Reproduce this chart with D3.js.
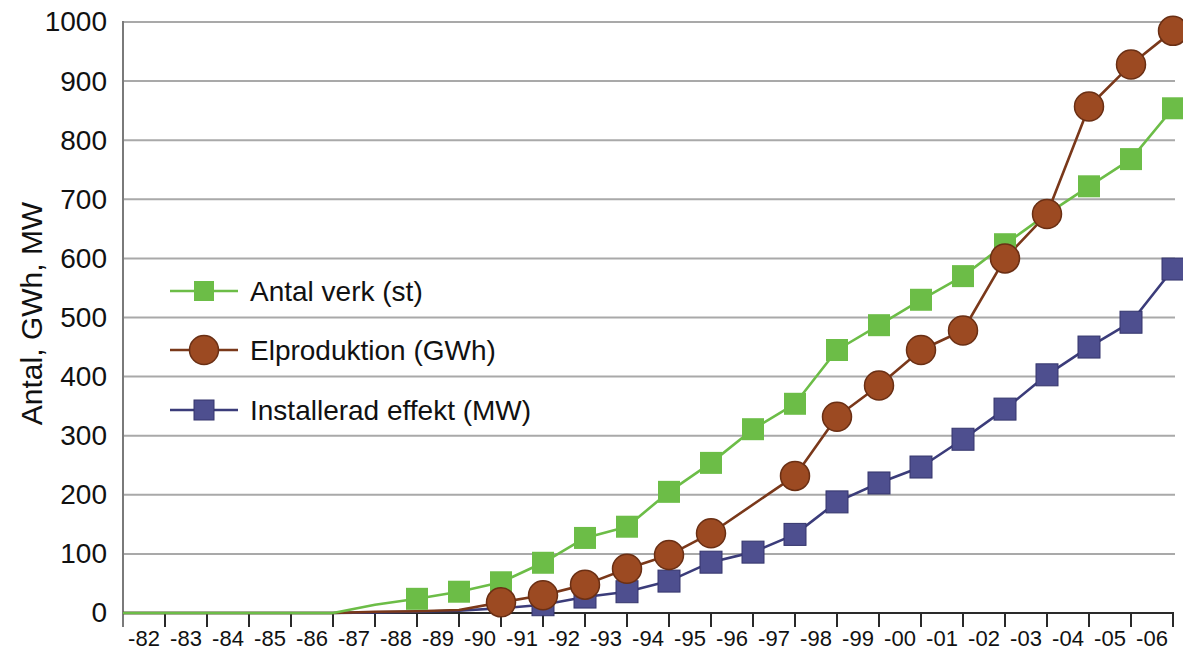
<!DOCTYPE html>
<html>
<head>
<meta charset="utf-8">
<script src="https://cdn.jsdelivr.net/npm/d3@7/dist/d3.min.js"></script>
<style>
  html, body { margin: 0; padding: 0; background: #fff; }
  svg { display: block; font-family: "Liberation Sans", Arial, Helvetica, sans-serif; }
</style>
</head>
<body>
<svg id="chart" width="1183" height="656"></svg>
<script>
// ---- data ----
const years = ["-82","-83","-84","-85","-86","-87","-88","-89","-90","-91","-92","-93","-94","-95","-96","-97","-98","-99","-00","-01","-02","-03","-04","-05","-06"];
const antalVerk   = [0,0,0,0,0,14,24,36,52,85,127,146,205,254,311,354,445,487,530,570,624,675,722,768,854];
const elproduktion = [0,0,0,0,0,2,3,5,18,30,48,75,98,135,null,232,332,385,445,478,600,675,857,928,985];
const installerad = [0,0,0,0,0,1,2,4,8,14,27,36,54,86,103,133,188,220,247,294,345,403,450,492,582];
const yTicks = [0,100,200,300,400,500,600,700,800,900,1000];
const seriesNames = ["Antal verk (st)", "Elproduktion (GWh)", "Installerad effekt (MW)"];
const markerFrom = ["-88", "-90", "-91"];
const yTitle = "Antal, GWh, MW";

(function () {
// ---- layout ----
const mLeft = 123, mRight = 1173, mTop = 22, mBottom = 613;
const svg = d3.select("#chart");

const x = d3.scaleBand().domain(years).range([mLeft, mRight]).paddingInner(0).paddingOuter(0);
const y = d3.scaleLinear().domain([0, 1000]).range([mBottom, mTop]);
const px = yr => x(yr) + x.bandwidth();

// gridlines
svg.append("g").selectAll("line").data(yTicks.filter(d => d > 0)).join("line")
  .attr("x1", mLeft).attr("x2", mRight + 2)
  .attr("y1", d => y(d)).attr("y2", d => y(d))
  .attr("stroke", "#a9a9a9").attr("stroke-width", 2);

// left axis line
svg.append("line").attr("x1", mLeft).attr("x2", mLeft).attr("y1", y(1000) - 1).attr("y2", mBottom + 14)
  .attr("stroke", "#7a7a7a").attr("stroke-width", 2);

// y tick labels
const yAxis = d3.axisLeft(y).tickValues(yTicks).tickSize(0).tickPadding(16).tickFormat(d3.format("d"));
const yg = svg.append("g").attr("transform", `translate(${mLeft},0)`).call(yAxis);
yg.select(".domain").remove();
yg.selectAll("text").attr("font-size", 28).attr("fill", "#111")
  .attr("font-family", "'Liberation Sans', Arial, sans-serif");

// bottom axis
const xAxis = d3.axisBottom(x).tickSize(0).tickPadding(17);
const xg = svg.append("g").attr("transform", `translate(0,${mBottom})`).call(xAxis);
xg.select(".domain").remove();
xg.selectAll("text").attr("font-size", 22).attr("fill", "#111")
  .attr("font-family", "'Liberation Sans', Arial, sans-serif");
svg.append("line").attr("x1", mLeft).attr("x2", mRight + 1).attr("y1", mBottom).attr("y2", mBottom)
  .attr("stroke", "#2a2a2a").attr("stroke-width", 2);
svg.append("g").selectAll("line").data(years).join("line")
  .attr("x1", d => px(d)).attr("x2", d => px(d))
  .attr("y1", mBottom).attr("y2", mBottom + 14)
  .attr("stroke", "#2a2a2a").attr("stroke-width", 2);

// y title
svg.append("text")
  .attr("transform", `translate(42,${(y(0) + y(1000)) / 2 - 4}) rotate(-90)`)
  .attr("text-anchor", "middle")
  .attr("font-size", 30).attr("fill", "#111")
  .text(yTitle);

// ---- series ----
const green = "#6cbd47", greenLine = "#6cbd47";
const brown = "#9c4a22", brownLine = "#7a381a", brownStroke = "#6a2f14";
const blue = "#4e4f8f", blueLine = "#3b3c7a", blueStroke = "#34356c";

function pts(vals) {
  const arr = [{ px: x.range()[0], v: 0 }];
  years.forEach((yr, i) => { if (vals[i] !== null) arr.push({ px: px(yr), v: vals[i], yr: yr, i: i }); });
  return arr;
}
const line = d3.line().x(d => d.px).y(d => y(d.v));

const series = [
  { name: seriesNames[0], vals: antalVerk, from: markerFrom[0], color: greenLine, fill: green, stroke: "none", shape: "square" },
  { name: seriesNames[1], vals: elproduktion, from: markerFrom[1], color: brownLine, fill: brown, stroke: brownStroke, shape: "circle" },
  { name: seriesNames[2], vals: installerad, from: markerFrom[2], color: blueLine, fill: blue, stroke: blueStroke, shape: "square" }
];

// lines: blue, brown, green
[2, 1, 0].forEach(k => {
  const s = series[k];
  svg.append("path").datum(pts(s.vals)).attr("d", line)
    .attr("fill", "none").attr("stroke", s.color).attr("stroke-width", 2.6)
    .attr("stroke-linejoin", "round");
});

function drawMarker(g, s, cx, cy, size) {
  if (s.shape === "circle") {
    g.append("circle").attr("cx", cx).attr("cy", cy).attr("r", size / 2)
      .attr("fill", s.fill).attr("stroke", s.stroke).attr("stroke-width", 1.5);
  } else {
    g.append("rect").attr("x", cx - size / 2).attr("y", cy - size / 2)
      .attr("width", size).attr("height", size)
      .attr("fill", s.fill).attr("stroke", s.stroke === "none" ? "none" : s.stroke).attr("stroke-width", 1);
  }
}

// markers: blue, green, brown
[2, 0, 1].forEach(k => {
  const s = series[k];
  const g = svg.append("g");
  const startIdx = years.indexOf(s.from);
  pts(s.vals).filter(d => d.yr !== undefined && d.i >= startIdx).forEach(d => {
    drawMarker(g, s, d.px, y(d.v), s.shape === "circle" ? 29 : 22);
  });
});

// legend
const legRows = [291, 350, 410];
series.forEach((s, k) => {
  const g = svg.append("g");
  const cy = legRows[k];
  g.append("line").attr("x1", 170).attr("x2", 238).attr("y1", cy).attr("y2", cy)
    .attr("stroke", s.color).attr("stroke-width", 2.6);
  drawMarker(g, s, 204, cy, s.shape === "circle" ? 29 : 20);
  g.append("text").attr("x", 250).attr("y", cy).attr("dy", "0.36em")
    .attr("font-size", 28).attr("fill", "#111").text(s.name);
});
})();
</script>
</body>
</html>
